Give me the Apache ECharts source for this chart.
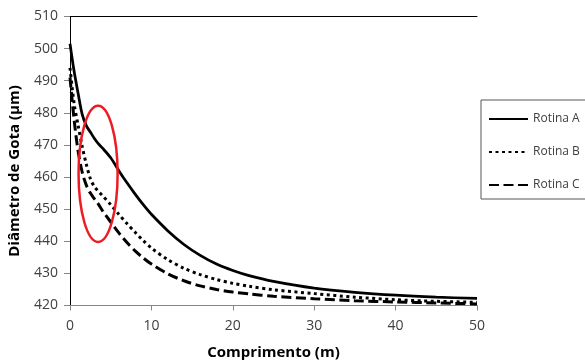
<!DOCTYPE html>
<html>
<head>
<meta charset="utf-8">
<script src="https://cdn.jsdelivr.net/npm/echarts@6/dist/echarts.min.js"></script>
<style>
html,body{margin:0;padding:0;background:#fff;}
#c{width:585px;height:360px;}
</style>
</head>
<body>
<div id="c"></div>
<script>
// Data
const xValues = [0, 0.5, 1, 1.5, 2, 2.5, 3, 3.5, 4, 5, 6, 7, 8, 9, 10, 12, 14, 16, 18, 20, 22, 25, 30, 35, 40, 45, 50];
const rotinaA = [501.5, 493, 486, 479.5, 476, 474, 472, 470.3, 469, 466, 462, 458.2, 454.7, 451.4, 448.4, 443.3, 439, 435.6, 432.9, 430.9, 429.3, 427.5, 425.4, 424.1, 423.2, 422.6, 422.2];
const rotinaB = [494, 483, 476, 469.5, 464, 459.5, 457, 455.5, 454.2, 451.4, 448.4, 445.5, 442.8, 440.2, 437.9, 434.3, 431.6, 429.6, 428.1, 426.9, 426, 424.9, 423.7, 422.6, 421.8, 421.3, 421];
const rotinaC = [491, 478, 468, 461.5, 457.5, 455, 453.2, 451.5, 449.5, 446, 442.6, 439.6, 437, 434.8, 432.9, 429.9, 427.7, 426.1, 425, 424.2, 423.6, 422.9, 422.1, 421.5, 421.1, 420.8, 420.5];
const seriesNames = ['Rotina A', 'Rotina B', 'Rotina C'];
const xTicks = {min: 0, max: 50, interval: 10};
const yTicks = {min: 420, max: 510, interval: 10};
// annotation ellipse: [centerX, centerY, radiusX, radiusY] in data units
const ellipse = [[3.45, 461, 2.4, 21.2]];

function pairs(ys){ return xValues.map((x,i)=>[x, ys[i]]); }

const font = '"Open Sans", "Liberation Sans", sans-serif';
const txt = '#404040';
const chart = echarts.init(document.getElementById('c'), null, {renderer:'canvas'});
chart.setOption({
  animation:false,
  backgroundColor:'#fff',
  grid:{left:70, right:108, top:16.5, bottom:54.5, containLabel:false, outerBoundsMode:'none'},
  legend:{
    orient:'vertical', left:481, top:100,
    data:seriesNames,
    itemWidth:39, itemHeight:14, itemGap:21, itemTextGap:2,
    padding:[13,12,8,7],
    borderColor:'#555', borderWidth:1,
    itemStyle:{opacity:0},
    textStyle:{fontFamily:font, fontSize:12, color:txt}
  },
  xAxis:[{
    type:'value', min:xTicks.min, max:xTicks.max, interval:xTicks.interval,
    name:'Comprimento (m)', nameLocation:'middle', nameGap:40,
    nameTextStyle:{fontFamily:font, fontSize:15, fontWeight:'bold', color:'#000'},
    axisLine:{show:true, lineStyle:{color:'#868686', width:1}},
    axisTick:{show:true, inside:false, length:5, lineStyle:{color:'#868686'}},
    axisLabel:{fontFamily:font, fontSize:14, color:txt, margin:14},
    splitLine:{show:false}
  },{
    type:'value', position:'top', min:xTicks.min, max:xTicks.max,
    axisLine:{show:true, lineStyle:{color:'#000', width:1}},
    axisTick:{show:false}, axisLabel:{show:false}, splitLine:{show:false}
  }],
  yAxis:[{
    type:'value', min:yTicks.min, max:yTicks.max, interval:yTicks.interval,
    name:'Diâmetro de Gota (µm)', nameLocation:'middle', nameGap:48, nameRotate:90,
    nameTextStyle:{fontFamily:font, fontSize:15, fontWeight:'bold', color:'#000', padding:[0,20,0,0]},
    axisLine:{show:true, lineStyle:{color:'#868686', width:1}},
    axisTick:{show:true, inside:false, length:6, lineStyle:{color:'#868686'}},
    axisLabel:{fontFamily:font, fontSize:14, color:txt, margin:12},
    splitLine:{show:false}
  },{
    type:'value', position:'right', min:yTicks.min, max:yTicks.max,
    axisLine:{show:true, lineStyle:{color:'#000', width:1}},
    axisTick:{show:false}, axisLabel:{show:false}, splitLine:{show:false}
  }],
  series:[
    {name:seriesNames[0], type:'line', data:pairs(rotinaA), symbol:'none', smooth:0.3,
     color:'#000', lineStyle:{color:'#000', width:2.75, type:'solid'}},
    {name:seriesNames[1], type:'line', data:pairs(rotinaB), symbol:'none', smooth:0.3,
     color:'#000', lineStyle:{color:'#000', width:3, type:[3,3.5]}},
    {name:seriesNames[2], type:'line', data:pairs(rotinaC), symbol:'none', smooth:0.3,
     color:'#000', lineStyle:{color:'#000', width:3, type:[10,4.5]}},
    {name:'ellipse', type:'custom', data:ellipse, encode:{x:0, y:1}, z:5,
     renderItem:function(params, api){
       const c = api.coord([api.value(0), api.value(1)]);
       const s = api.size([api.value(2), api.value(3)]);
       return {type:'ellipse', shape:{cx:c[0], cy:c[1], rx:s[0], ry:s[1]},
               style:{fill:'none', stroke:'#ED1C24', lineWidth:2.5}};
     }}
  ]
});
</script>
</body>
</html>
